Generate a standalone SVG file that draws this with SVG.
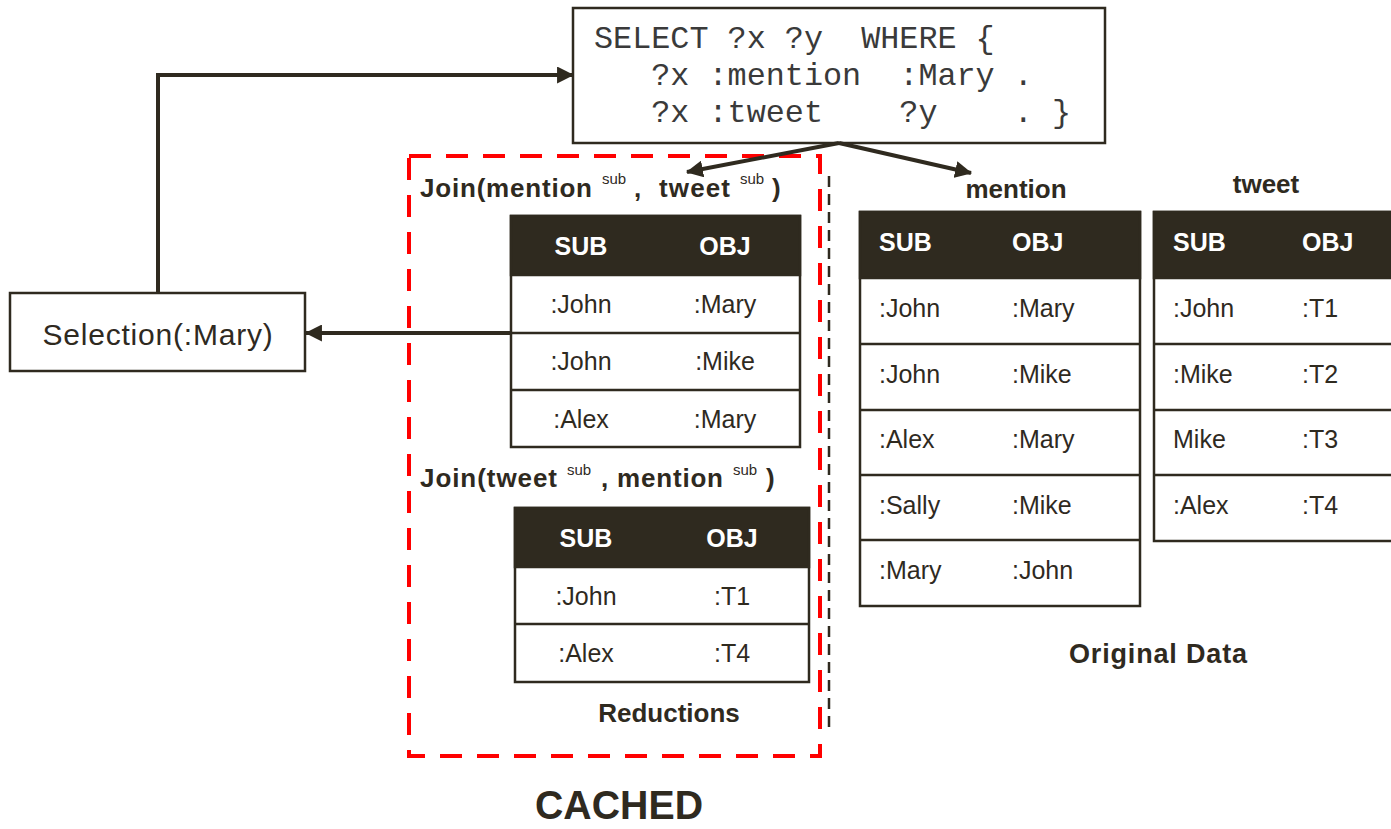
<svg xmlns="http://www.w3.org/2000/svg" width="1391" height="829" viewBox="0 0 1391 829">
  <style>
    .box { fill: #ffffff; stroke: #2f2a1f; stroke-width: 2.5; }
    .hdr { fill: #2f2a1f; stroke: #2f2a1f; stroke-width: 2.5; }
    .rule { stroke: #2f2a1f; stroke-width: 2.5; }
    .sans { font-family: "Liberation Sans", Arial, sans-serif; }
    .cell { font-family: "Liberation Sans", Arial, sans-serif; font-size: 25px; fill: #2f2a1f; }
    .head { font-family: "Liberation Sans", Arial, sans-serif; font-size: 25px; font-weight: bold; fill: #ffffff; }
    .lbl { font-family: "Liberation Sans", Arial, sans-serif; font-size: 26px; font-weight: bold; fill: #2f2a1f; }
    .sup { font-family: "Liberation Sans", Arial, sans-serif; font-size: 15px; fill: #2f2a1f; }
    .code { font-family: "Liberation Mono", "Courier New", monospace; font-size: 31.8px; fill: #3a3a3a; }
    .wire { fill: none; stroke: #2f2a1f; stroke-width: 4; }
  </style>
  <defs>
    <marker id="ah" viewBox="0 0 16 16" refX="15" refY="8" markerWidth="17" markerHeight="17" markerUnits="userSpaceOnUse" orient="auto">
      <path d="M0,0 L16,8 L0,16 z" fill="#2f2a1f"/>
    </marker>
  </defs>

  <rect width="1391" height="829" fill="#ffffff"/>

  <!-- cached region -->
  <g id="cached">
    <rect x="409" y="156" width="411" height="600" fill="none" stroke="#ff0000" stroke-width="4" stroke-dasharray="22 15"/>
    <line x1="829" y1="176" x2="829" y2="730" stroke="#2f2a1f" stroke-width="2.5" stroke-dasharray="11 7"/>
    <text class="lbl" x="619" y="819" text-anchor="middle" style="font-size:40px" textLength="168" lengthAdjust="spacingAndGlyphs">CACHED</text>
    <text class="lbl" x="669" y="722" text-anchor="middle">Reductions</text>
  </g>

  <!-- SPARQL query -->
  <g id="query">
    <rect class="box" x="573" y="8" width="532" height="135"/>
    <text class="code" xml:space="preserve" x="594" y="48">SELECT ?x ?y  WHERE {</text>
    <text class="code" xml:space="preserve" x="594" y="85">   ?x :mention  :Mary .</text>
    <text class="code" xml:space="preserve" x="594" y="122">   ?x :tweet    ?y    . }</text>
  </g>

  <!-- selection operator -->
  <g id="selection">
    <rect class="box" x="10" y="293" width="295" height="78"/>
    <text class="sans" x="158" y="345" text-anchor="middle" font-size="30" letter-spacing="0.8" fill="#2f2a1f">Selection(:Mary)</text>
  </g>

  <!-- Join(mention sub, tweet sub) -->
  <g id="join-mention-tweet">
    <text class="lbl" x="420" y="197" textLength="172">Join(mention</text>
    <text class="sup" x="602" y="184">sub</text>
    <text class="lbl" x="634" y="197">,</text>
    <text class="lbl" x="659" y="197" textLength="71">tweet</text>
    <text class="sup" x="740" y="184">sub</text>
    <text class="lbl" x="772" y="197">)</text>
    <rect class="box" x="511" y="216" width="289" height="231"/>
    <rect class="hdr" x="511" y="216" width="289" height="59"/>
    <line class="rule" x1="511" y1="333" x2="800" y2="333"/>
    <line class="rule" x1="511" y1="390" x2="800" y2="390"/>
    <text class="head" x="581" y="255" text-anchor="middle">SUB</text>
    <text class="head" x="725" y="255" text-anchor="middle">OBJ</text>
    <text class="cell" x="581" y="313" text-anchor="middle">:John</text>
    <text class="cell" x="725" y="313" text-anchor="middle">:Mary</text>
    <text class="cell" x="581" y="370" text-anchor="middle">:John</text>
    <text class="cell" x="725" y="370" text-anchor="middle">:Mike</text>
    <text class="cell" x="581" y="428" text-anchor="middle">:Alex</text>
    <text class="cell" x="725" y="428" text-anchor="middle">:Mary</text>
  </g>

  <!-- Join(tweet sub, mention sub) -->
  <g id="join-tweet-mention">
    <text class="lbl" x="420" y="487" textLength="137">Join(tweet</text>
    <text class="sup" x="567" y="475">sub</text>
    <text class="lbl" x="601" y="487">,</text>
    <text class="lbl" x="617" y="487" textLength="106">mention</text>
    <text class="sup" x="733" y="475">sub</text>
    <text class="lbl" x="766" y="487">)</text>
    <rect class="box" x="515" y="508" width="294" height="174"/>
    <rect class="hdr" x="515" y="508" width="294" height="59"/>
    <line class="rule" x1="515" y1="624" x2="809" y2="624"/>
    <text class="head" x="586" y="547" text-anchor="middle">SUB</text>
    <text class="head" x="732" y="547" text-anchor="middle">OBJ</text>
    <text class="cell" x="586" y="605" text-anchor="middle">:John</text>
    <text class="cell" x="732" y="605" text-anchor="middle">:T1</text>
    <text class="cell" x="586" y="662" text-anchor="middle">:Alex</text>
    <text class="cell" x="732" y="662" text-anchor="middle">:T4</text>
  </g>

  <!-- mention table -->
  <g id="mention">
    <text class="lbl" x="1016" y="198" text-anchor="middle">mention</text>
    <rect class="box" x="860" y="212" width="280" height="394"/>
    <rect class="hdr" x="860" y="212" width="280" height="66"/>
    <line class="rule" x1="860" y1="344" x2="1140" y2="344"/>
    <line class="rule" x1="860" y1="410" x2="1140" y2="410"/>
    <line class="rule" x1="860" y1="475" x2="1140" y2="475"/>
    <line class="rule" x1="860" y1="540" x2="1140" y2="540"/>
    <text class="head" x="879" y="251">SUB</text>
    <text class="head" x="1012" y="251">OBJ</text>
    <text class="cell" x="879" y="317">:John</text>
    <text class="cell" x="1012" y="317">:Mary</text>
    <text class="cell" x="879" y="383">:John</text>
    <text class="cell" x="1012" y="383">:Mike</text>
    <text class="cell" x="879" y="448">:Alex</text>
    <text class="cell" x="1012" y="448">:Mary</text>
    <text class="cell" x="879" y="514">:Sally</text>
    <text class="cell" x="1012" y="514">:Mike</text>
    <text class="cell" x="879" y="579">:Mary</text>
    <text class="cell" x="1012" y="579">:John</text>
  </g>

  <!-- tweet table -->
  <g id="tweet">
    <text class="lbl" x="1266" y="193" text-anchor="middle">tweet</text>
    <rect class="box" x="1154" y="212" width="260" height="329"/>
    <rect class="hdr" x="1154" y="212" width="260" height="66"/>
    <line class="rule" x1="1154" y1="344" x2="1414" y2="344"/>
    <line class="rule" x1="1154" y1="410" x2="1414" y2="410"/>
    <line class="rule" x1="1154" y1="475" x2="1414" y2="475"/>
    <text class="head" x="1173" y="251">SUB</text>
    <text class="head" x="1302" y="251">OBJ</text>
    <text class="cell" x="1173" y="317">:John</text>
    <text class="cell" x="1302" y="317">:T1</text>
    <text class="cell" x="1173" y="383">:Mike</text>
    <text class="cell" x="1302" y="383">:T2</text>
    <text class="cell" x="1173" y="448">Mike</text>
    <text class="cell" x="1302" y="448">:T3</text>
    <text class="cell" x="1173" y="514">:Alex</text>
    <text class="cell" x="1302" y="514">:T4</text>
  </g>

  <g id="original-data">
    <text class="lbl" x="1158" y="663" text-anchor="middle" style="font-size:27px" textLength="178">Original Data</text>
  </g>

  <!-- connectors -->
  <g id="connectors">
    <path class="wire" d="M158,293 V75 H573" marker-end="url(#ah)"/>
    <path class="wire" d="M511,333 H306" marker-end="url(#ah)"/>
    <path class="wire" d="M839,143 L687,172" marker-end="url(#ah)"/>
    <path class="wire" d="M839,143 L971,173" marker-end="url(#ah)"/>
  </g>
</svg>
